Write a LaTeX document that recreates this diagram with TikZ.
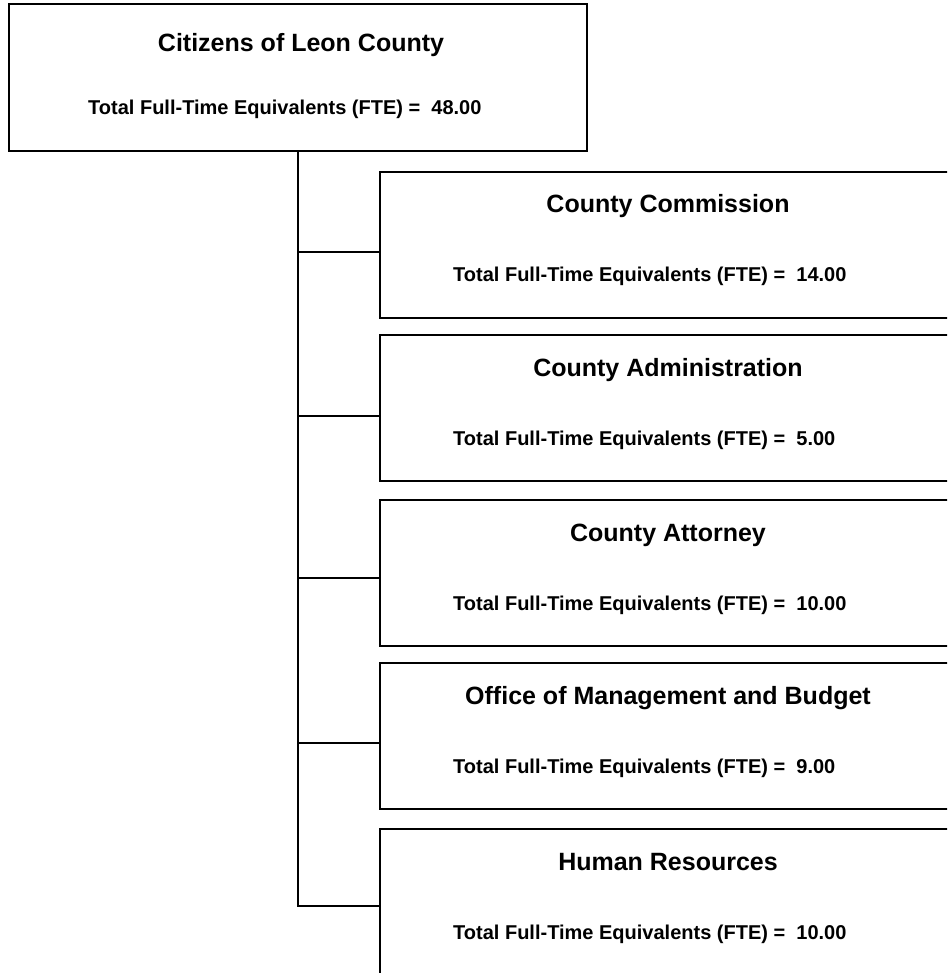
\documentclass[tikz,border=0pt]{standalone}
\usepackage{fontspec}
\setmainfont{Liberation Sans}
\usetikzlibrary{calc}
\begin{document}
\begin{tikzpicture}[x=1pt,y=-1pt,
  unitbox/.style={draw=black, line width=2pt, rectangle, anchor=north west,
    minimum width=576pt, minimum height=146pt, inner sep=0pt},
  ttl/.style={anchor=base, inner sep=0pt, font=\fontsize{25}{30}\selectfont\bfseries},
  fte/.style={anchor=base west, inner sep=0pt, font=\fontsize{20}{24}\selectfont\bfseries},
  conn/.style={draw=black, line width=2pt}]
\useasboundingbox (0,0) rectangle (947,973);
\begin{scope}
\clip (0,0) rectangle (947,973);
% top box
\node[unitbox, minimum width=578pt, minimum height=147pt] (top) at (8,3) {};
\node[ttl] (topt) at ($(top.north)+(3,49)$) {Citizens of Leon County};
\node[fte] (topf) at ($(top.north west)+(80,112)$) {Total Full-Time Equivalents (FTE) =\ \ 48.00};
% child boxes
\node[unitbox] (b1) at (379,171) {};
\node[unitbox] (b2) at (379,334) {};
\node[unitbox] (b3) at (379,499) {};
\node[unitbox] (b4) at (379,662) {};
\node[unitbox, minimum height=160pt] (b5) at (379,828) {};
\node[ttl] (t1) at ($(b1.north)+(0,42)$) {County Commission};
\node[ttl] (t2) at ($(b2.north)+(0,42)$) {County Administration};
\node[ttl] (t3) at ($(b3.north)+(0,42)$) {County Attorney};
\node[ttl] (t4) at ($(b4.north)+(0,42)$) {Office of Management and Budget};
\node[ttl] (t5) at ($(b5.north)+(0,42)$) {Human Resources};
\node[fte] (f1) at ($(b1.north west)+(74,111)$) {Total Full-Time Equivalents (FTE) =\ \ 14.00};
\node[fte] (f2) at ($(b2.north west)+(74,111)$) {Total Full-Time Equivalents (FTE) =\ \ 5.00};
\node[fte] (f3) at ($(b3.north west)+(74,111)$) {Total Full-Time Equivalents (FTE) =\ \ 10.00};
\node[fte] (f4) at ($(b4.north west)+(74,111)$) {Total Full-Time Equivalents (FTE) =\ \ 9.00};
\node[fte] (f5) at ($(b5.north west)+(74,111)$) {Total Full-Time Equivalents (FTE) =\ \ 10.00};
% connectors
\coordinate (c1) at ($(b1.north west)+(0,81)$);
\coordinate (c2) at ($(b2.north west)+(0,82)$);
\coordinate (c3) at ($(b3.north west)+(0,79)$);
\coordinate (c4) at ($(b4.north west)+(0,81)$);
\coordinate (c5) at ($(b5.north west)+(0,78)$);
\draw[conn] (top.south) |- (c1);
\draw[conn] (top.south) |- (c2);
\draw[conn] (top.south) |- (c3);
\draw[conn] (top.south) |- (c4);
\draw[conn] (top.south) |- (c5);
\end{scope}
\end{tikzpicture}
\end{document}
